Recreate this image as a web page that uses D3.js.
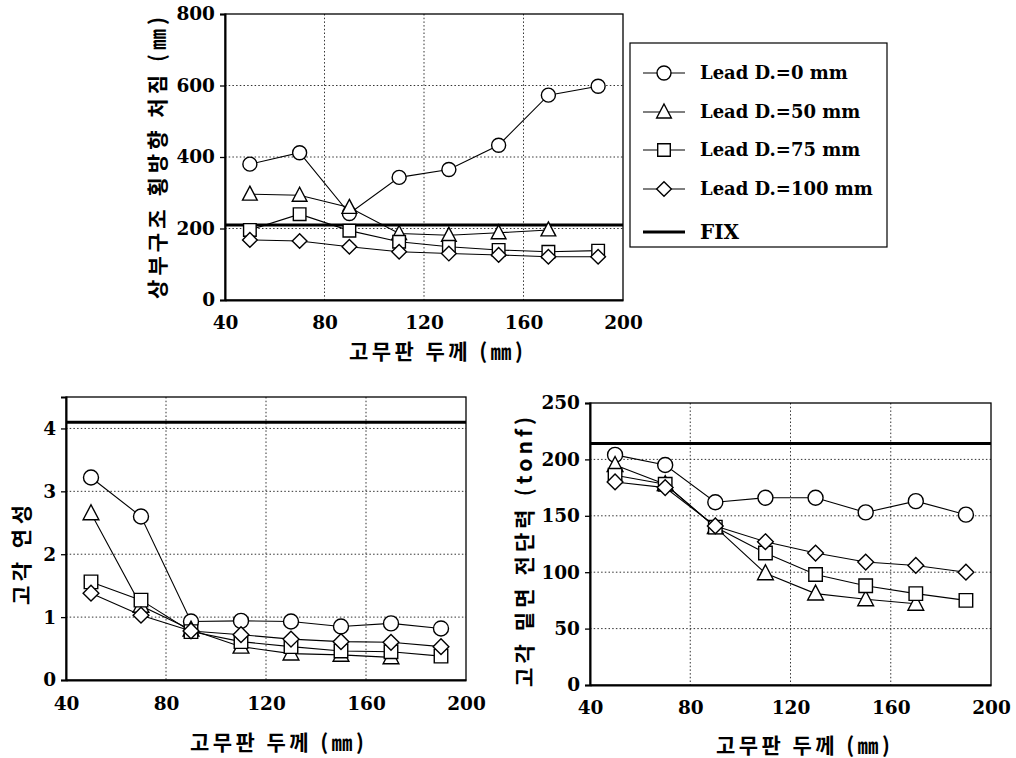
<!DOCTYPE html>
<html>
<head>
<meta charset="utf-8">
<script src="https://cdn.jsdelivr.net/npm/d3@7"></script>
<style>
  html, body { margin: 0; padding: 0; background: #fff; }
  svg { display: block; }
</style>
</head>
<body>
<script>
// ---------------- data ----------------
const thickness = [50, 70, 90, 110, 130, 150, 170, 190];
const leadLabels = ["Lead D.=0 mm", "Lead D.=50 mm", "Lead D.=75 mm", "Lead D.=100 mm"];
const fixLabel = "FIX";
const xTicks = [40, 80, 120, 160, 200];

// top: superstructure lateral displacement (mm)
const dispLead0   = [380, 412, 242, 343, 365, 433, 573, 598];
const dispLead50  = [296, 293, 259, 186, 181, 188, 196];
const dispLead75  = [196, 240, 194, 163, 149, 140, 135, 138];
const dispLead100 = [168, 165, 149, 135, 130, 126, 121, 121];
const dispFix = 210;
const dispTicks = [0, 200, 400, 600, 800];

// bottom-left: pier ductility
const ductLead0   = [3.22, 2.60, 0.93, 0.94, 0.93, 0.85, 0.90, 0.82];
const ductLead50  = [2.65, 1.18, 0.80, 0.53, 0.42, 0.40, 0.36];
const ductLead75  = [1.56, 1.27, 0.77, 0.61, 0.53, 0.46, 0.45, 0.38];
const ductLead100 = [1.38, 1.03, 0.78, 0.72, 0.65, 0.61, 0.60, 0.53];
const ductFix = 4.1;
const ductTicks = [0, 1, 2, 3, 4];

// bottom-right: pier base shear (tonf)
const shearLead0   = [204, 195, 162, 166, 166, 153, 163, 151];
const shearLead50  = [195, 178, 140, 99, 81, 76, 72];
const shearLead75  = [186, 178, 140, 117, 98, 88, 81, 75];
const shearLead100 = [180, 175, 141, 127, 117, 109, 106, 100];
const shearFix = 214;
const shearTicks = [0, 50, 100, 150, 200, 250];

const xLabel = "고무판 두께 (㎜)";
const yLabelTop = "상부구조 횡방향 처짐 (㎜)";
const yLabelBL = "고각 연성";
const yLabelBR = "고각 밑면 전단력 (tonf)";

// ---------------- drawing ----------------
const W = 1016, H = 758;
const svg = d3.select("body").append("svg").attr("width", W).attr("height", H);
const tickFont = "'DejaVu Serif', 'Liberation Serif', serif";
const korFont = "'Noto Sans CJK KR', 'Noto Sans CJK SC', sans-serif";
const markerTypes = ["circle", "triangle", "square", "diamond"];

function drawMarker(g, type, x, y, s) {
  const h = s / 2;
  let el;
  if (type === "circle") {
    el = g.append("circle").attr("cx", x).attr("cy", y).attr("r", h);
  } else if (type === "triangle") {
    const th = s * 0.95;
    el = g.append("path").attr("d",
      `M${x},${y - th * 0.6}L${x + h * 1.05},${y + th * 0.45}L${x - h * 1.05},${y + th * 0.45}Z`);
  } else if (type === "square") {
    const q = h * 0.9;
    el = g.append("path").attr("d", `M${x - q},${y - q}H${x + q}V${y + q}H${x - q}Z`);
  } else {
    const q = h * 1.05;
    el = g.append("path").attr("d", `M${x},${y - q}L${x + q},${y}L${x},${y + q}L${x - q},${y}Z`);
  }
  el.attr("fill", "#fff").attr("stroke", "#000").attr("stroke-width", 1.4);
}

function panel(cfg) {
  const g = svg.append("g");
  const x = d3.scaleLinear().domain([40, 200]).range([cfg.left, cfg.right]);
  const y = d3.scaleLinear().domain(cfg.yDomain).range([cfg.bottom, cfg.top]);

  // grid
  const grid = g.append("g").attr("stroke", "#333").attr("stroke-width", 1).attr("stroke-dasharray", "1.5,2.2");
  xTicks.slice(1, -1).forEach(t => {
    grid.append("line").attr("x1", x(t)).attr("x2", x(t)).attr("y1", cfg.top).attr("y2", cfg.bottom);
  });
  cfg.yTicks.forEach(t => {
    if (t === cfg.yDomain[0] || t === cfg.yDomain[1]) return;
    grid.append("line").attr("x1", cfg.left).attr("x2", cfg.right).attr("y1", y(t)).attr("y2", y(t));
  });

  // frame
  g.append("rect").attr("x", cfg.left).attr("y", cfg.top)
    .attr("width", cfg.right - cfg.left).attr("height", cfg.bottom - cfg.top)
    .attr("fill", "none").attr("stroke", "#000").attr("stroke-width", 1.3);

  // axes
  const ya = g.append("g").attr("transform", `translate(${cfg.left},0)`)
    .call(d3.axisLeft(y).tickValues(cfg.yTicks).tickSize(5).tickPadding(5).tickFormat(d3.format("d")));
  ya.select(".domain").attr("stroke-width", 2);
  ya.selectAll("text").attr("font-family", tickFont).attr("font-weight", "bold").attr("font-size", 18.5).attr("fill", "#000");
  ya.selectAll("line").attr("stroke-width", 1.3);

  const xa = g.append("g").attr("transform", `translate(0,${cfg.bottom})`)
    .call(d3.axisBottom(x).tickValues(xTicks).tickSize(0).tickPadding(cfg.xPad).tickFormat(d3.format("d")));
  xa.select(".domain").attr("stroke-width", 2);
  xa.selectAll("text").attr("font-family", tickFont).attr("font-weight", "bold").attr("font-size", 18.5).attr("fill", "#000");

  // FIX line
  g.append("line").attr("x1", cfg.left).attr("x2", cfg.right)
    .attr("y1", y(cfg.fix)).attr("y2", y(cfg.fix))
    .attr("stroke", "#000").attr("stroke-width", 3);

  // series
  const line = d3.line().x(d => x(d[0])).y(d => y(d[1]));
  cfg.series.forEach((vals, i) => {
    const pts = vals.map((v, j) => [thickness[j], v]);
    g.append("path").attr("d", line(pts)).attr("fill", "none").attr("stroke", "#000").attr("stroke-width", 1.1);
    pts.forEach(p => drawMarker(g, markerTypes[i], x(p[0]), y(p[1]), cfg.ms));
  });

  // labels
  g.append("text").attr("x", cfg.xLabelX).attr("y", cfg.xLabelY)
    .attr("text-anchor", "middle").attr("font-family", korFont).attr("font-weight", 700)
    .attr("font-size", 21).attr("textLength", 174).attr("lengthAdjust", "spacing")
    .text(xLabel);
  g.append("text")
    .attr("transform", `translate(${cfg.yLabelX},${cfg.yLabelY}) rotate(-90)`)
    .attr("text-anchor", "middle").attr("dominant-baseline", "central")
    .attr("font-family", korFont).attr("font-weight", 700)
    .attr("font-size", 21).attr("textLength", cfg.yLabelLen).attr("lengthAdjust", "spacing")
    .text(cfg.yLabel);
}

panel({
  left: 225, right: 623, top: 14, bottom: 300, yDomain: [0, 800], yTicks: dispTicks,
  series: [dispLead0, dispLead50, dispLead75, dispLead100], fix: dispFix, ms: 14, xPad: 16,
  xLabelX: 436, xLabelY: 359, yLabelX: 156, yLabelY: 158, yLabelLen: 282, yLabel: yLabelTop
});
panel({
  left: 66, right: 466, top: 397, bottom: 680, yDomain: [0, 4.5], yTicks: ductTicks,
  series: [ductLead0, ductLead50, ductLead75, ductLead100], fix: ductFix, ms: 15, xPad: 17,
  xLabelX: 277, xLabelY: 750, yLabelX: 20, yLabelY: 555, yLabelLen: 100, yLabel: yLabelBL
});
panel({
  left: 590, right: 991, top: 403, bottom: 685, yDomain: [0, 250], yTicks: shearTicks,
  series: [shearLead0, shearLead50, shearLead75, shearLead100], fix: shearFix, ms: 15, xPad: 16,
  xLabelX: 803, xLabelY: 753, yLabelX: 523, yLabelY: 552, yLabelLen: 270, yLabel: yLabelBR
});

// legend
const lg = svg.append("g");
lg.append("rect").attr("x", 630).attr("y", 43).attr("width", 257).attr("height", 204)
  .attr("fill", "#fff").attr("stroke", "#000").attr("stroke-width", 1.2);
const legY = [73, 112, 150, 189, 232];
leadLabels.forEach((lab, i) => {
  lg.append("line").attr("x1", 643).attr("x2", 685).attr("y1", legY[i]).attr("y2", legY[i])
    .attr("stroke", "#000").attr("stroke-width", 1.1);
  drawMarker(lg, markerTypes[i], 664, legY[i], 14);
  lg.append("text").attr("x", 700).attr("y", legY[i]).attr("dy", "0.36em")
    .attr("font-family", tickFont).attr("font-weight", "bold").attr("font-size", 18).text(lab);
});
lg.append("line").attr("x1", 643).attr("x2", 685).attr("y1", legY[4]).attr("y2", legY[4])
  .attr("stroke", "#000").attr("stroke-width", 3);
lg.append("text").attr("x", 700).attr("y", legY[4]).attr("dy", "0.36em")
  .attr("font-family", tickFont).attr("font-weight", "bold").attr("font-size", 20).text(fixLabel);
</script>
</body>
</html>
